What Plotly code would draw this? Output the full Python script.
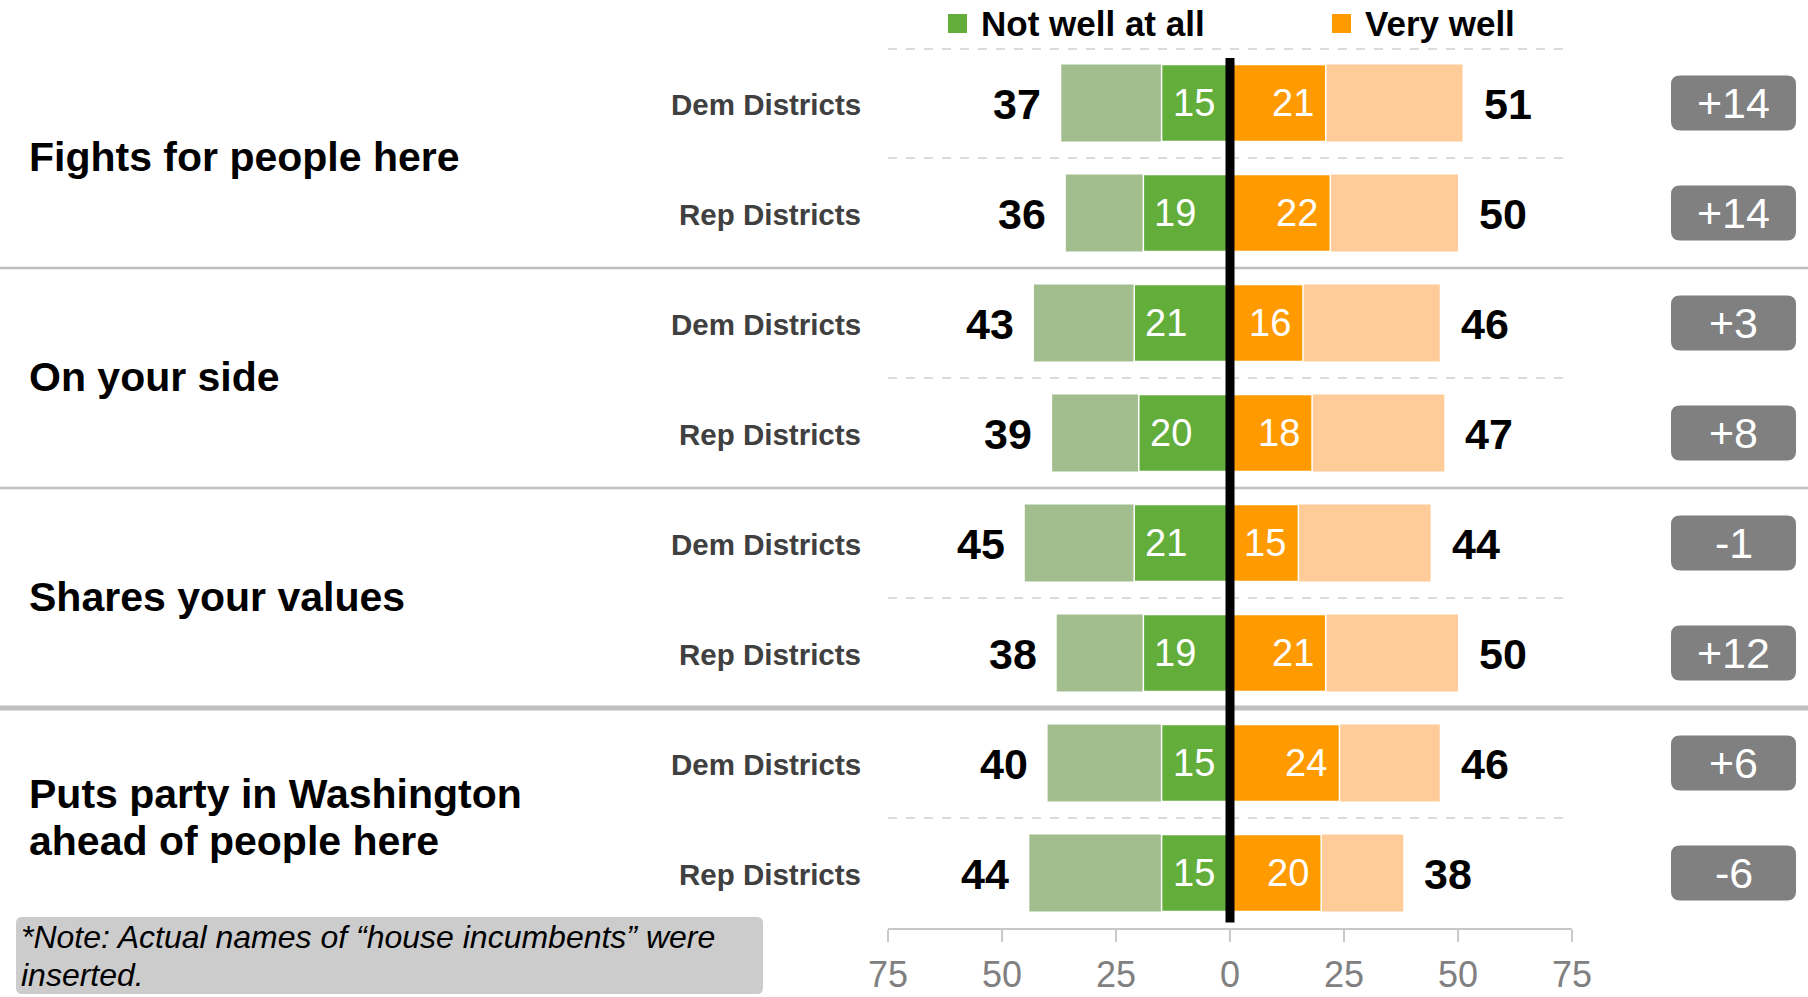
import plotly.graph_objects as go

# ---------------- data ----------------
groups = ["Fights for people here", "On your side", "Shares your values",
          "Puts party in Washington<br>ahead of people here"]
subgroups = ["Dem Districts", "Rep Districts"] * 4
not_well_total = [37, 36, 43, 39, 45, 38, 40, 44]
not_well_at_all = [15, 19, 21, 20, 21, 19, 15, 15]
very_well = [21, 22, 16, 18, 15, 21, 24, 20]
well_total = [51, 50, 46, 47, 44, 50, 46, 38]
net_labels = ["+14", "+14", "+3", "+8", "-1", "+12", "+6", "-6"]
tick_vals = [-75, -50, -25, 0, 25, 50, 75]
tick_text = ["75", "50", "25", "0", "25", "50", "75"]
legend_names = ["Not well at all", "Very well"]
note_lines = ["*Note: Actual names of \u201chouse incumbents\u201d were", "inserted."]

# ---------------- style ----------------
W, H = 1808, 997
MT, MB = 48, 69
PH = H - MT - MB
ROW_PX = PH / 8
FONT = "Liberation Sans, Arial, sans-serif"
C_DG, C_LG = "#63AD3A", "#A2BE8F"
C_DO, C_LO = "#FF9A00", "#FFCC99"

rows = list(range(len(subgroups)))

fig = go.Figure()
fig.add_trace(go.Bar(y=rows, x=[-v for v in not_well_total], orientation="h",
                     marker=dict(color=C_LG, line=dict(width=0)), hoverinfo="skip"))
fig.add_trace(go.Bar(y=rows, x=[-v for v in not_well_at_all], orientation="h",
                     marker=dict(color=C_DG, line=dict(color="white", width=1.5)), hoverinfo="skip"))
fig.add_trace(go.Bar(y=rows, x=well_total, orientation="h",
                     marker=dict(color=C_LO, line=dict(width=0)), hoverinfo="skip"))
fig.add_trace(go.Bar(y=rows, x=very_well, orientation="h",
                     marker=dict(color=C_DO, line=dict(color="white", width=1.5)), hoverinfo="skip"))

def px_x(p):
    return p / W

def px_y(p):
    return (H - MB - p) / PH

def rrect(x0, x1, y0, y1, rx, ry):
    return (f"M{x0+rx},{y0} L{x1-rx},{y0} Q{x1},{y0} {x1},{y0+ry} "
            f"L{x1},{y1-ry} Q{x1},{y1} {x1-rx},{y1} L{x0+rx},{y1} "
            f"Q{x0},{y1} {x0},{y1-ry} L{x0},{y0+ry} Q{x0},{y0} {x0+rx},{y0} Z")

shapes = []
ann = []

# dashed row separators
for yv in [-0.49, 0.5, 2.5, 4.5, 6.5]:
    shapes.append(dict(type="line", xref="x", yref="y", x0=-75, x1=75, y0=yv, y1=yv,
                       line=dict(color="#D0D0D0", width=1.5, dash="dash"), layer="below"))
# solid group separators
for yv, w in [(1.5, 2.5), (3.5, 2.5), (5.5, 5)]:
    shapes.append(dict(type="line", xref="paper", yref="y", x0=0, x1=1, y0=yv, y1=yv,
                       line=dict(color="#C0C0C0", width=w)))
# center black line
shapes.append(dict(type="line", xref="x", yref="y", x0=0, x1=0, y0=-0.41, y1=7.45,
                   line=dict(color="black", width=9)))

# net badges
bx0, bx1 = px_x(1671), px_x(1796)
for i, lab in enumerate(net_labels):
    shapes.append(dict(type="path", xref="paper", yref="y",
                       path=rrect(bx0, bx1, i - 0.25, i + 0.25, 9 / W, 9 / ROW_PX),
                       fillcolor="#808080", line=dict(width=0)))
    ann.append(dict(xref="paper", yref="y", x=(bx0 + bx1) / 2, y=i, text=lab, showarrow=False,
                    font=dict(family=FONT, size=43, color="white"), xanchor="center", yanchor="middle"))

# note box
shapes.append(dict(type="path", xref="paper", yref="paper",
                   path=rrect(px_x(16), px_x(763), px_y(994), px_y(917), 6 / W, 6 / PH),
                   fillcolor="#CCCCCC", line=dict(width=0)))
for k, line in enumerate(note_lines):
    ann.append(dict(xref="paper", yref="paper", x=px_x(19), y=px_y(937 + 38 * k), text=line,
                    showarrow=False, xanchor="left", yanchor="middle",
                    font=dict(family=FONT, size=32, color="black", style="italic")))

# legend
for name, col, sx in zip(legend_names, [C_DG, C_DO], [948, 1332]):
    shapes.append(dict(type="rect", xref="paper", yref="paper", x0=px_x(sx), x1=px_x(sx + 19),
                       y0=px_y(33), y1=px_y(14), fillcolor=col, line=dict(width=0)))
    ann.append(dict(xref="paper", yref="paper", x=px_x(sx + 31), y=px_y(23), text=f"<b>{name}</b>",
                    showarrow=False, xanchor="left", yanchor="middle",
                    font=dict(family=FONT, size=35, color="black")))

# group labels
for g, gy in zip(groups, [0.5, 2.5, 4.5, 6.5]):
    lines = g.split("<br>")
    n = len(lines)
    for k, line in enumerate(lines):
        ann.append(dict(xref="paper", yref="y", x=px_x(27), y=gy, text=f"<b>{line}</b>",
                        yshift=((n - 1) / 2 - k) * 47 + 1, showarrow=False,
                        xanchor="left", yanchor="middle",
                        font=dict(family=FONT, size=41, color="black")))

# row labels, totals, inner values
for i in rows:
    ann.append(dict(xref="paper", yref="y", x=px_x(863), y=i, text=f"<b>{subgroups[i]}</b>",
                    yshift=-1, showarrow=False, xanchor="right", yanchor="middle",
                    font=dict(family=FONT, size=29.5, color="#404040")))
    ann.append(dict(xref="x", yref="y", x=-not_well_total[i], y=i, text=f"<b>{not_well_total[i]}</b>",
                    xshift=-18, yshift=-1, showarrow=False, xanchor="right", yanchor="middle",
                    font=dict(family=FONT, size=43, color="black")))
    ann.append(dict(xref="x", yref="y", x=well_total[i], y=i, text=f"<b>{well_total[i]}</b>",
                    xshift=19, yshift=-1, showarrow=False, xanchor="left", yanchor="middle",
                    font=dict(family=FONT, size=43, color="black")))
    ann.append(dict(xref="x", yref="y", x=-not_well_at_all[i], y=i, text=str(not_well_at_all[i]),
                    xshift=9, showarrow=False, xanchor="left", yanchor="middle",
                    font=dict(family=FONT, size=38, color="white")))
    ann.append(dict(xref="x", yref="y", x=very_well[i], y=i, text=str(very_well[i]),
                    xshift=-10, showarrow=False, xanchor="right", yanchor="middle",
                    font=dict(family=FONT, size=38, color="white")))

fig.update_layout(
    template="none",
    width=W, height=H, autosize=False,
    margin=dict(l=0, r=0, t=MT, b=MB, pad=0, autoexpand=False),
    paper_bgcolor="white", plot_bgcolor="white",
    barmode="overlay", bargap=0.3,
    showlegend=False,
    shapes=shapes, annotations=ann,
    xaxis=dict(domain=[888 / W, 1572 / W], range=[-75, 75], tickvals=tick_vals, ticktext=tick_text,
               automargin=False,
               showgrid=False, zeroline=False, showline=True, linecolor="#C8C8C8", linewidth=2,
               ticks="outside", ticklen=12, tickwidth=2, tickcolor="#C8C8C8", ticklabelstandoff=2,
               tickfont=dict(family=FONT, size=36, color="#808080"), fixedrange=True),
    yaxis=dict(range=[7.5, -0.5], visible=False, automargin=False, fixedrange=True),
)

fig.write_html("out.html", config={"responsive": False, "displayModeBar": False},
               post_script="document.body.style.margin='0';document.body.style.overflow='hidden';")
